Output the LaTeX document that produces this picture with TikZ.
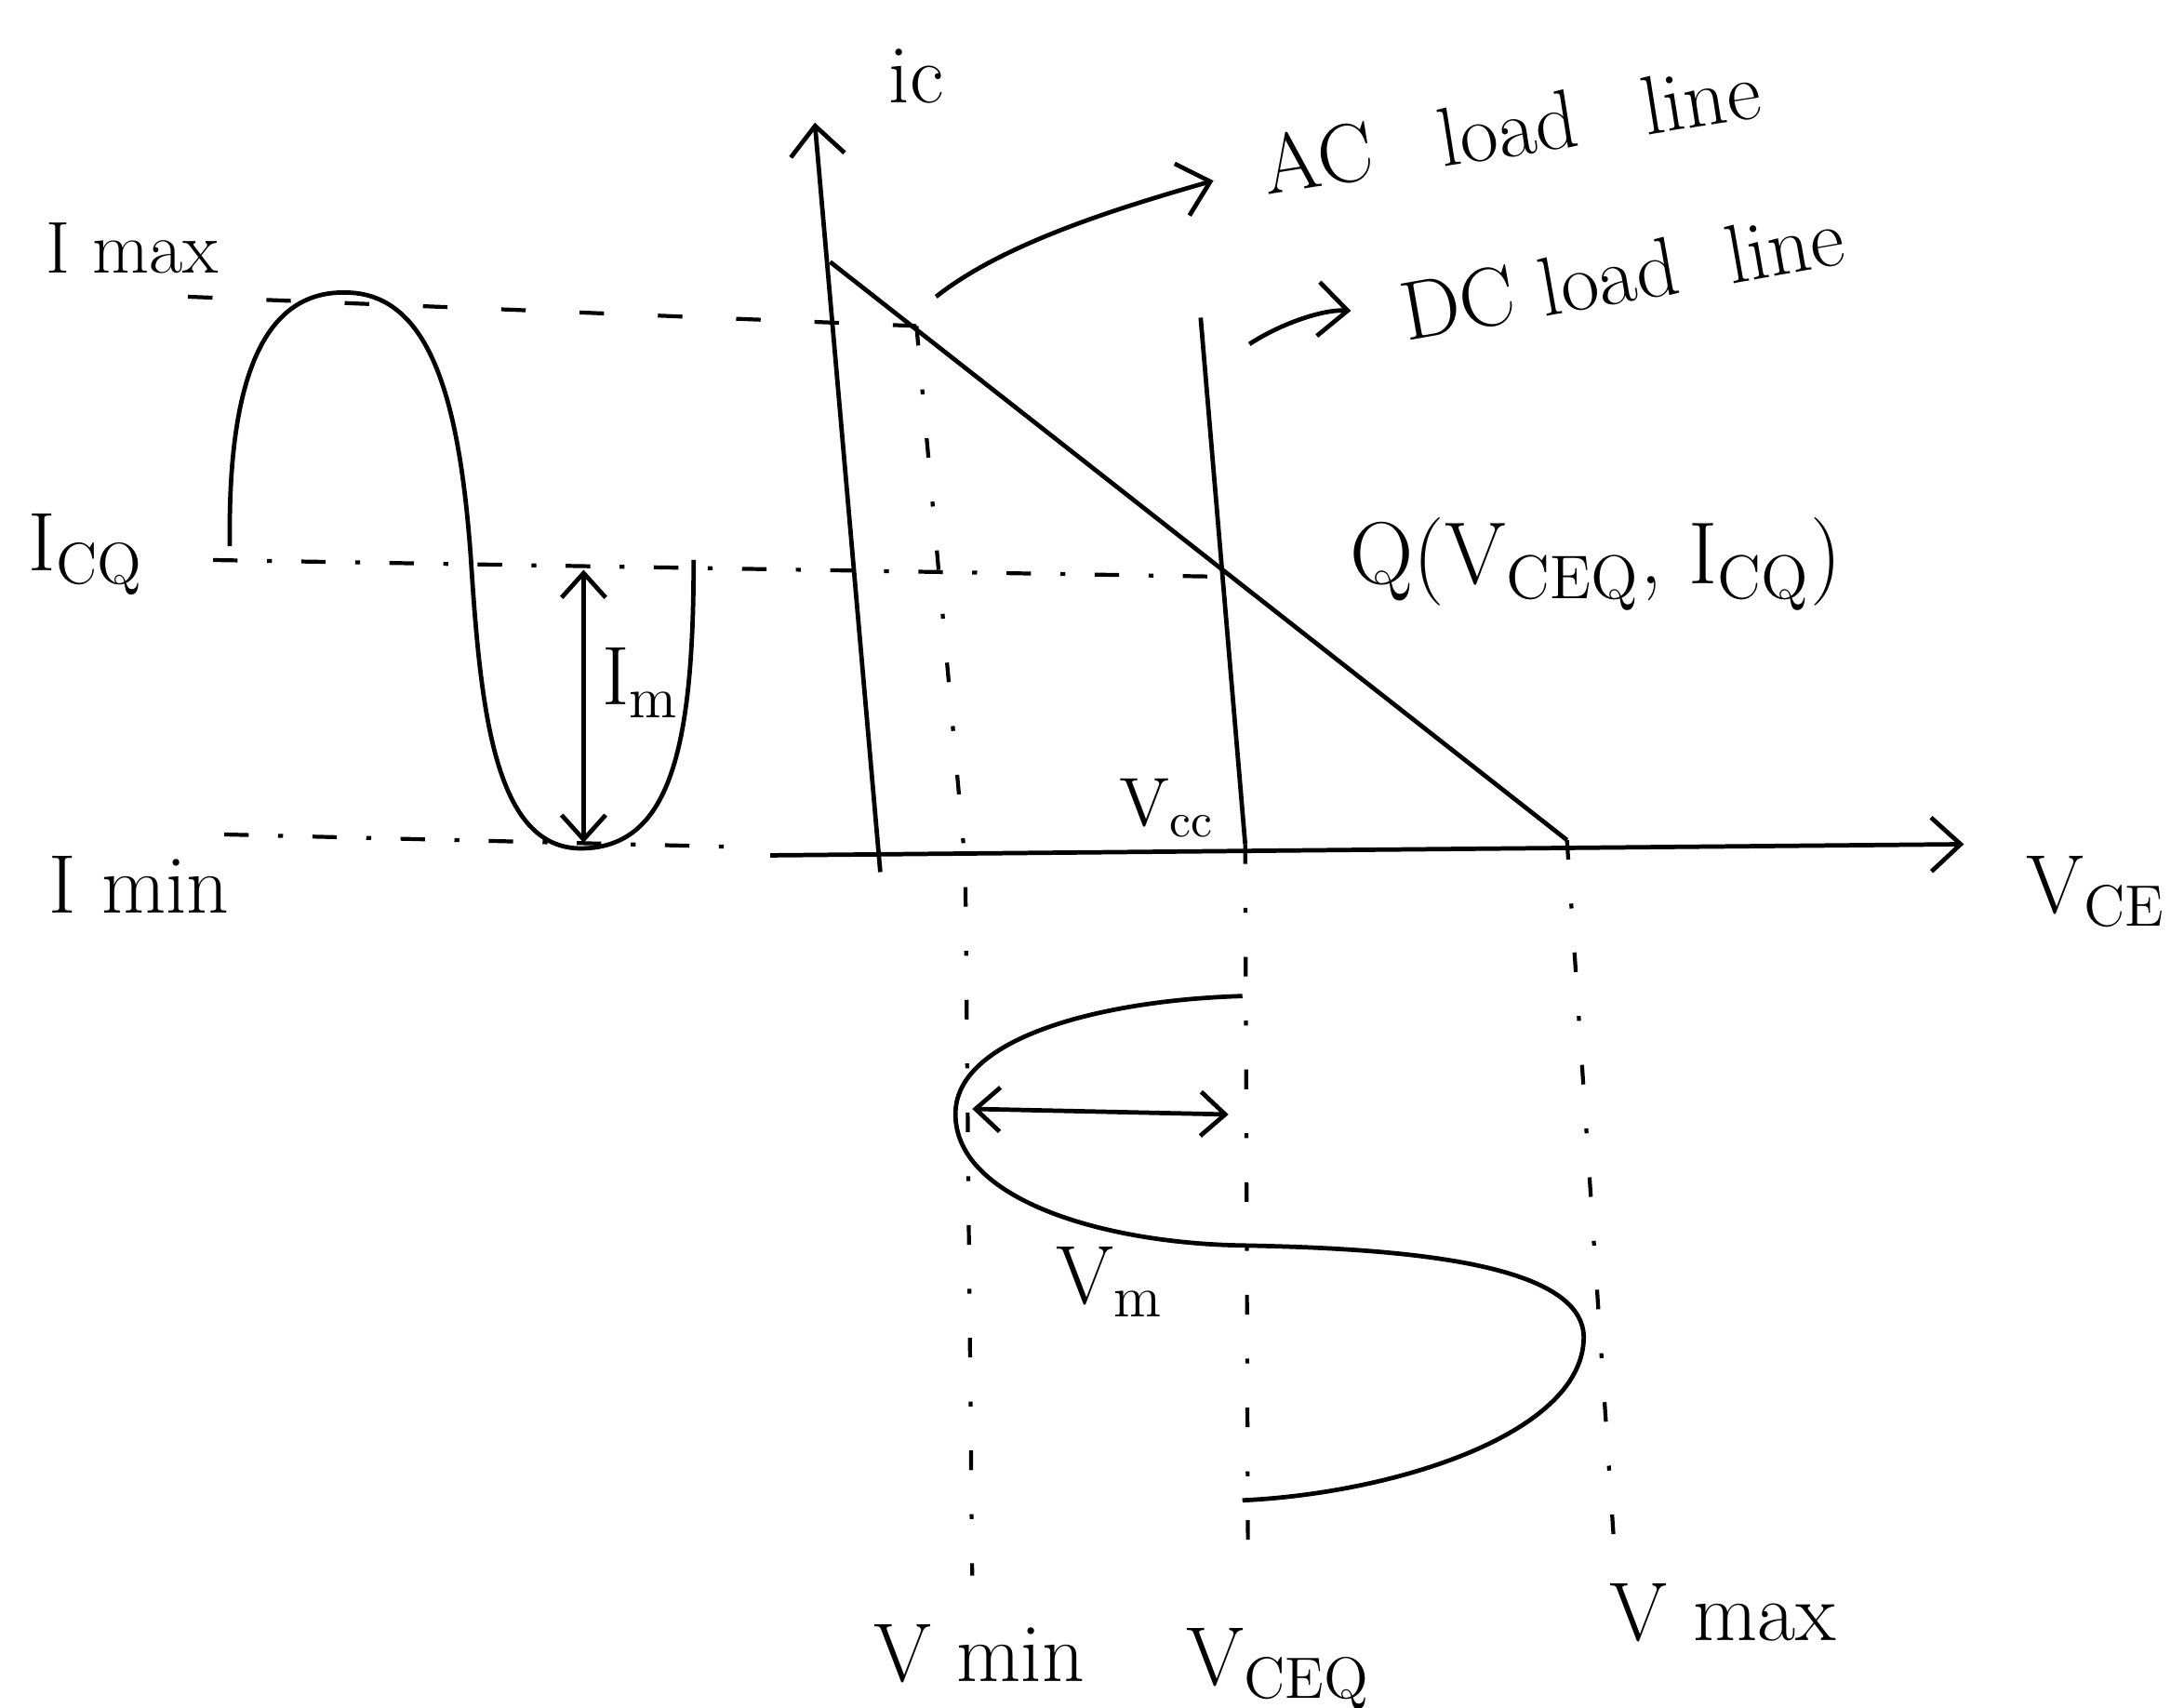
\documentclass[tikz,border=0pt]{standalone}
\usetikzlibrary{arrows.meta,positioning,calc}
\begin{document}
\begin{tikzpicture}[x=0.01cm,y=-0.01cm,line width=0.9pt,
    >={Straight Barb[length=6pt,width=11pt]},
    lbl/.style={font=\fontsize{17}{20}\selectfont,inner sep=1pt},
    sublbl/.style={font=\fontsize{14}{16}\selectfont,inner sep=1pt},
    guide/.style={line width=0.8pt,dash pattern=on 5pt off 11pt},
    guidedot/.style={line width=0.8pt,dash pattern=on 5pt off 6pt on 1pt off 6pt},
    vguide/.style={line width=0.8pt,dash pattern=on 4pt off 9pt on 1pt off 9pt},
    smallarr/.style={{Straight Barb[length=5pt,width=9pt]}-{Straight Barb[length=5pt,width=9pt]}}]
  \useasboundingbox (0,0) rectangle (1568,1226);

  \coordinate (ybot) at (632,626);
  \coordinate (ytip) at (585,88);
  \coordinate (xstart) at (553,614);
  \coordinate (xtip) at (1410,606);
  \coordinate (acA) at (596,188);
  \coordinate (acB) at (1125,603);
  \coordinate (dcA) at (862,228);
  \coordinate (dcB) at (894,606);
  \coordinate (Q) at (879,414);
  \coordinate (pmax) at (658,234);
  \coordinate (imtop) at (419,409);
  \coordinate (imbot) at (419,605);
  \coordinate (vmleft) at (698,796);
  \coordinate (vmright) at (882,800);
  \coordinate (acp) at (672,213);
  \coordinate (dcp) at (897,247);

  % guide lines
  \draw[guide] (135,213) -- (pmax);
  \draw[guidedot] (153,402) -- (Q);
  \draw[guidedot] (161,599) -- (531,608);
  \draw[vguide] (pmax) -- (693,620) -- (698,1131);
  \draw[vguide] (dcB) -- (896,1119);
  \draw[vguide] (acB) -- (1159,1111);

  % axes and load lines
  \draw[->] (ybot) -- (ytip);
  \draw[->] (xstart) -- (xtip);
  \draw (acA) -- (acB);
  \draw (dcA) -- (dcB);

  % current and voltage swings
  \draw (165,392) .. controls (163,250) and (200,208) .. (250,210)
    .. controls (310,212) and (330,290) .. (338,400)
    .. controls (345,510) and (355,610) .. (418,609)
    .. controls (480,608) and (498,540) .. (498,402);
  \draw (892,715) .. controls (790,718) and (688,745) .. (686,798)
    .. controls (684,860) and (790,892) .. (890,894)
    .. controls (1000,896) and (1140,905) .. (1137,962)
    .. controls (1134,1030) and (1000,1072) .. (892,1077);
  \draw[smallarr] (imtop) -- (imbot);
  \draw[smallarr] (vmleft) -- (vmright);

  % labels
  \node[lbl] (ic) at (658,55) {ic};
  \node[lbl,font=\fontsize{15}{18}\selectfont] (imax) at (95,178) {I max};
  \node[lbl] (icq) at (62,398) {I\textsubscript{CQ}};
  \node[lbl] (imin) at (100,635) {I min};
  \node[lbl] (im) at (460,490) {I\textsubscript{m}};
  \node[lbl,inner sep=0pt,rotate=9,anchor=west] (acl) at (905,120) {AC\hspace{0.5em} load\hspace{0.5em} line};
  \node[lbl,inner sep=0pt,rotate=10,anchor=west] (dcl) at (1005,225) {DC load\hspace{0.3em} line};
  \node[lbl,font=\fontsize{18}{21}\selectfont] (qlbl) at (1146,405) {Q(V\textsubscript{CEQ}, I\textsubscript{CQ})};
  \node[sublbl] (vcc) at (838,580) {V\textsubscript{cc}};
  \node[lbl] (vce) at (1505,640) {V\textsubscript{CE}};
  \node[lbl] (vm) at (797,920) {V\textsubscript{m}};
  \node[lbl] (vmin) at (703,1187) {V min};
  \node[lbl] (vceq) at (918,1198) {V\textsubscript{CEQ}};
  \node[lbl] (vmax) at (1237,1158) {V max};

  \draw[->,shorten >=10pt] (acp) .. controls (720,175) and (800,150) .. (acl.west);
  \draw[->,shorten >=10pt] (dcp) .. controls (920,232) and (950,222) .. (dcl.west);
\end{tikzpicture}
\end{document}
